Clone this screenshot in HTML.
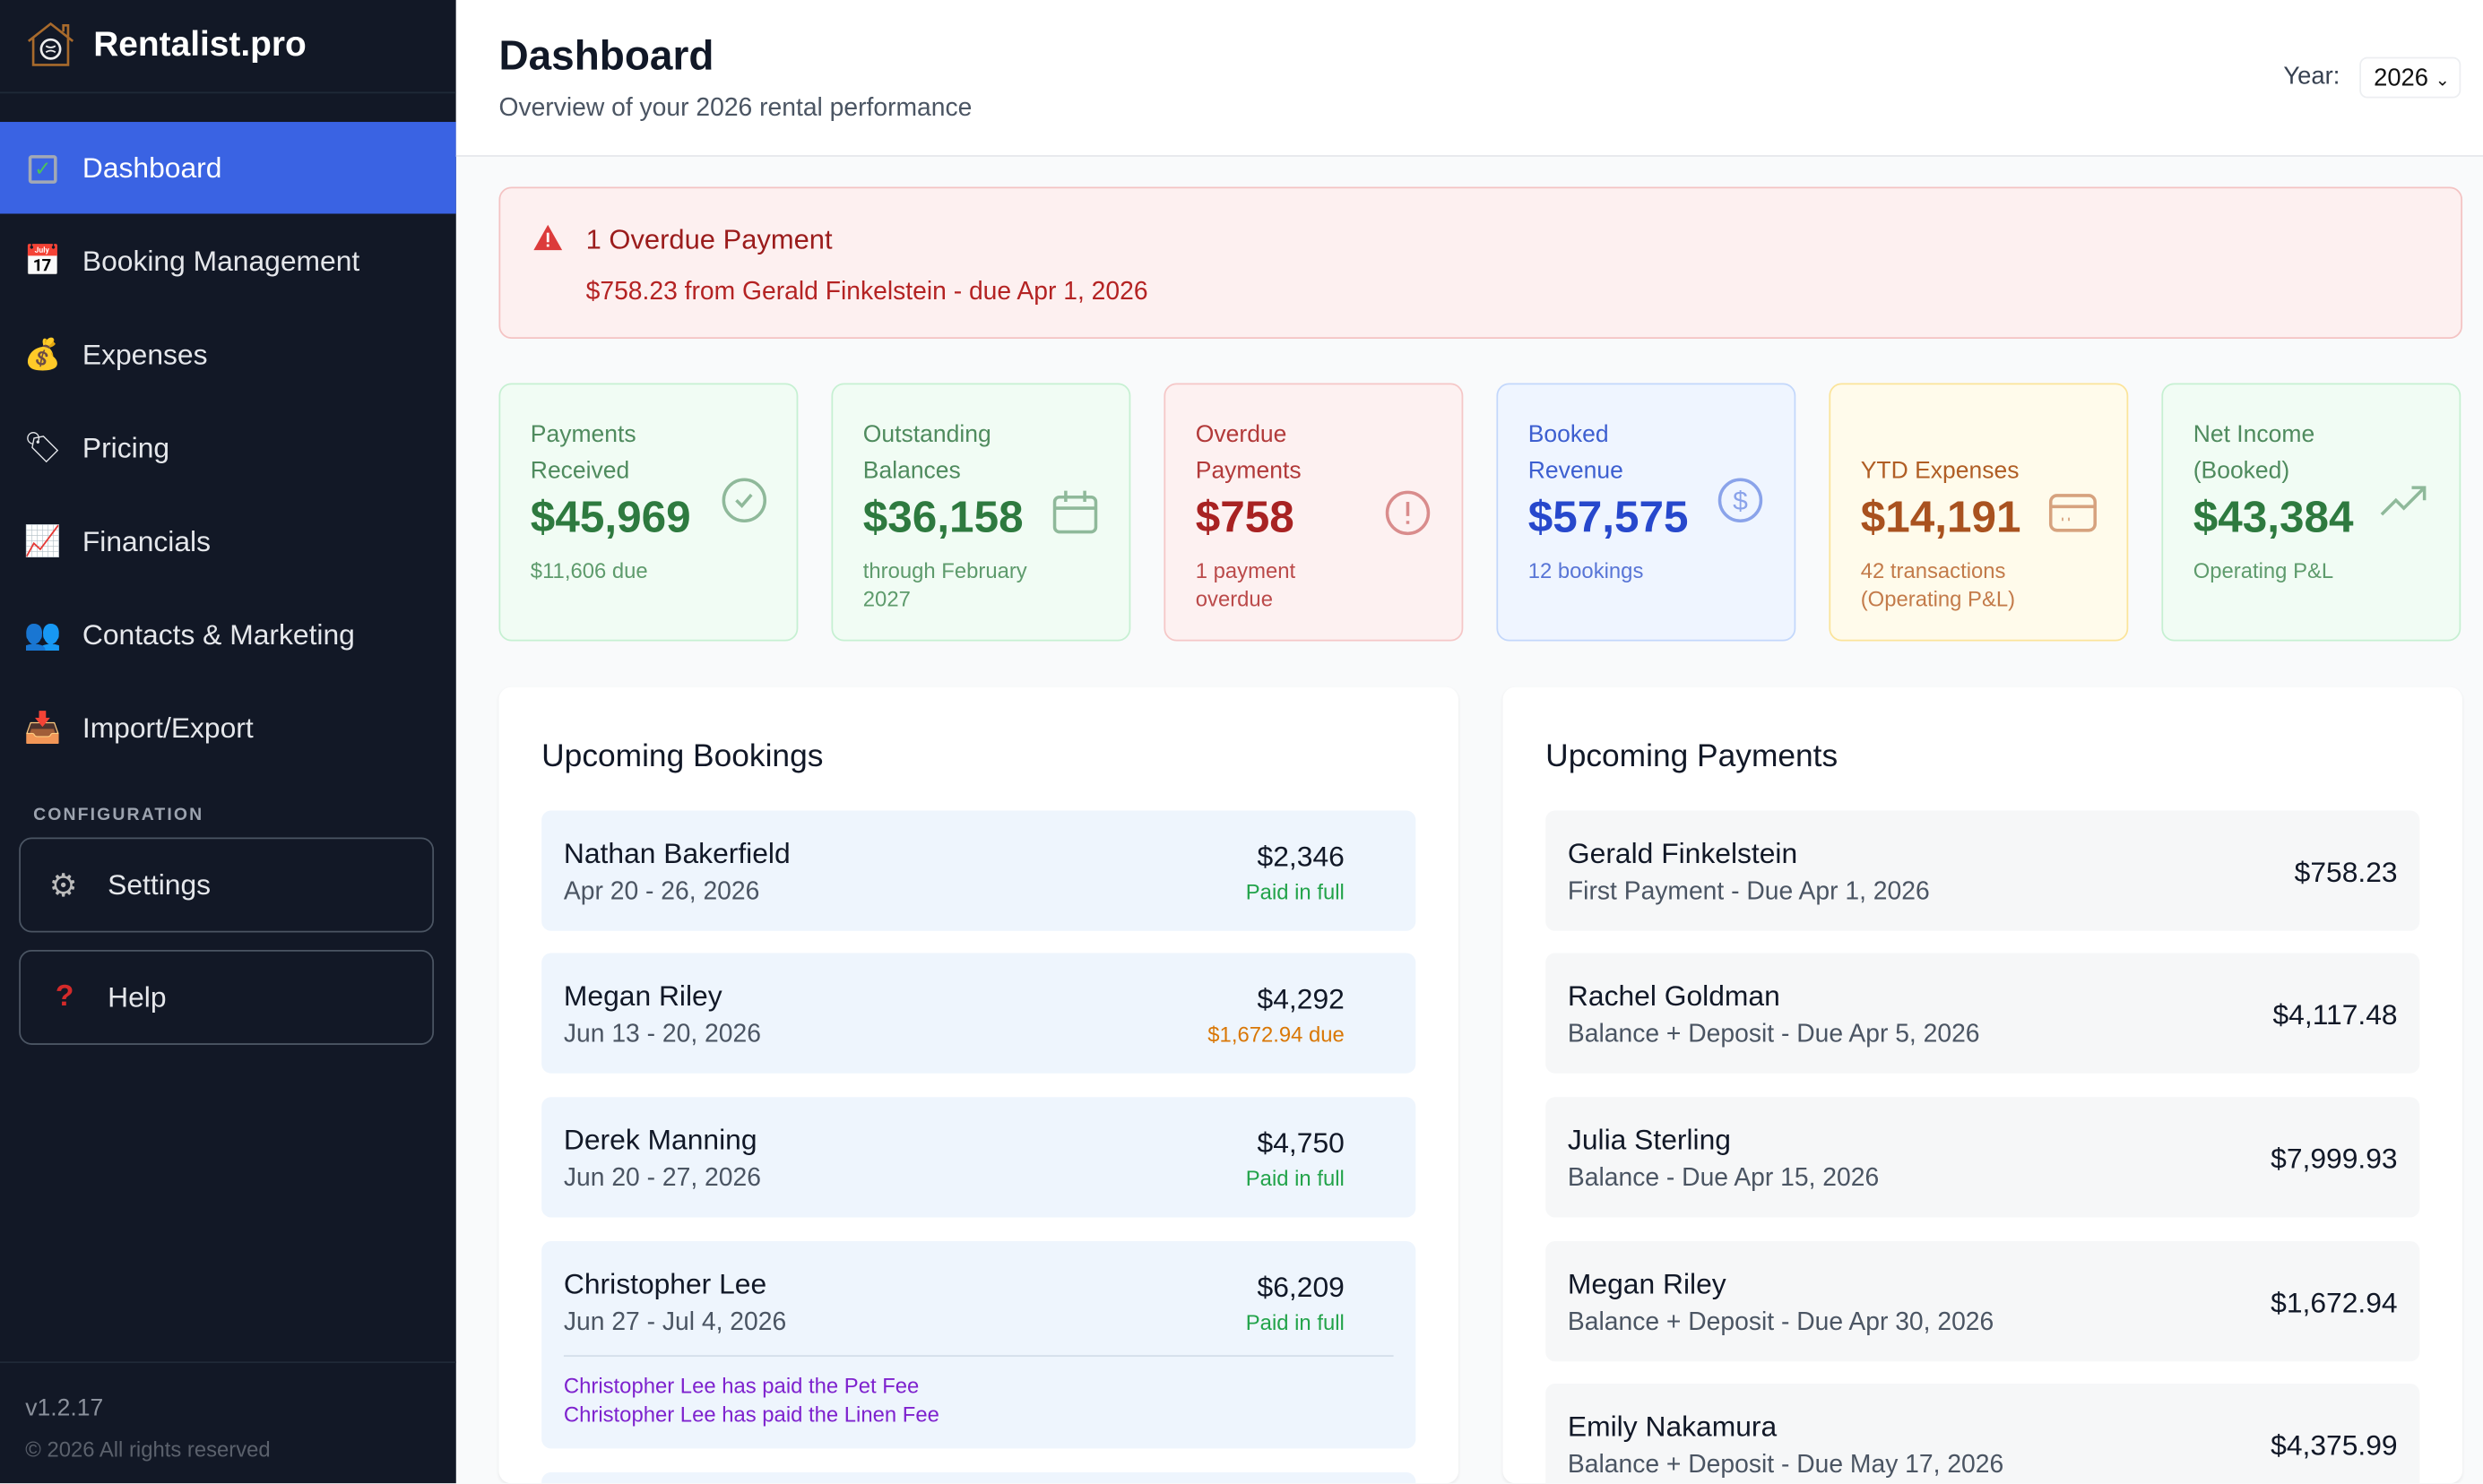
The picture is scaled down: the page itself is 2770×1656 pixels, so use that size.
<!DOCTYPE html>
<html><head><meta charset="utf-8"><style>
html,body{margin:0;padding:0;width:2770px;height:1656px;overflow:hidden;background:#f9fafb}
#root{position:absolute;left:0;top:0;width:1568px;height:937px;transform:scale(1.76658);transform-origin:0 0;font-family:"Liberation Sans",sans-serif;overflow:hidden}
.abs{position:absolute}
.side{left:0;top:0;width:288px;height:937px;background:#121826}
.nav{position:absolute;left:0;width:288px;height:58px;color:#e5e7eb;font-size:18px;display:flex;align-items:center}
.nav .ic{width:24px;margin-left:15px;margin-right:13px;font-size:19px;text-align:center}
.cbox{position:absolute;left:12px;width:260px;height:58px;border:1px solid #4b5563;border-radius:8px;color:#e5e7eb;font-size:18px;display:flex;align-items:center}
.card{position:absolute;top:242px;width:189px;height:163px;border:1px solid;border-radius:8px;box-sizing:border-box}
.card .lbl{position:absolute;left:19px;top:20px;font-size:15px;line-height:23px}
.card .val{position:absolute;left:19px;top:68px;font-size:28px;font-weight:bold}
.card .sub{position:absolute;left:19px;top:109px;font-size:13.5px;line-height:18px}
.card svg{position:absolute}
.panel{position:absolute;top:434px;background:#fff;border-radius:8px;height:503px;overflow:hidden;box-shadow:0 1px 2px rgba(0,0,0,.06)}
.row{position:absolute;left:27px;right:27px;height:76px;border-radius:6px}
.row .n{position:absolute;left:14px;top:17px;font-size:18px;color:#111827}
.row .d{position:absolute;left:14px;top:43px;font-size:16px;color:#4b5563}
.row .a{position:absolute;right:45px;top:19px;font-size:18px;color:#111827}
.row .s{position:absolute;right:45px;top:44px;font-size:13.5px}
.prow .a{right:14px;top:29px;font-size:18px}
</style></head><body>
<div id="root">
<div class="abs side">
  <div class="abs" style="left:16px;top:13px">
    <svg width="32" height="30" viewBox="0 0 32 30"><path d="M2 13 L16 2 L30 13 M24 7 V3 H27 V10 M5 11 V28 H27 V11" fill="none" stroke="#a86a2c" stroke-width="1.5"/><circle cx="16" cy="18" r="6" fill="none" stroke="#eee" stroke-width="1.5"/><path d="M13 16 q3 2 6 0 M13 20 q3 -2 6 0" stroke="#eee" fill="none" stroke-width="1"/></svg>
  </div>
  <div class="abs" style="left:59px;top:15px;font-size:22px;font-weight:bold;color:#fff">Rentalist.pro</div>
  <div class="abs" style="left:0;top:58px;width:288px;height:1px;background:#1f2937"></div>
  <div class="nav" style="top:77px;background:#3a63e3;color:#fff"><span class="ic"><span style="display:inline-block;width:18px;height:18px;border:2px solid #a3a9b5;box-sizing:border-box;border-radius:2px;color:#4cc45a;font-size:13px;line-height:14px">✓</span></span>Dashboard</div>
  <div class="nav" style="top:136px"><span class="ic">📅</span>Booking Management</div>
  <div class="nav" style="top:195px"><span class="ic">💰</span>Expenses</div>
  <div class="nav" style="top:254px"><span class="ic">🏷</span>Pricing</div>
  <div class="nav" style="top:313px"><span class="ic">📈</span>Financials</div>
  <div class="nav" style="top:372px"><span class="ic">👥</span>Contacts &amp; Marketing</div>
  <div class="nav" style="top:431px"><span class="ic">📥</span>Import/Export</div>
  <div class="abs" style="left:21px;top:509px;font-size:11px;letter-spacing:1.2px;color:#9ca3af;font-weight:bold">CONFIGURATION</div>
  <div class="cbox" style="top:529px"><span style="margin-left:18px;width:24px;color:#bbb;font-size:20px">⚙</span><span style="margin-left:13px">Settings</span></div>
  <div class="cbox" style="top:600px"><span style="margin-left:22px;width:20px;color:#d42a2a;font-size:19px;font-weight:bold">?</span><span style="margin-left:13px">Help</span></div>
  <div class="abs" style="left:0;top:860px;width:288px;height:1px;background:#1f2937"></div>
  <div class="abs" style="left:16px;top:881px;font-size:15px;color:#8b919c">v1.2.17</div>
  <div class="abs" style="left:16px;top:908px;font-size:13.5px;color:#5b616c">© 2026 All rights reserved</div>
</div>

<div class="abs" style="left:288px;top:0;width:1280px;height:98px;background:#fff;border-bottom:1px solid #e5e7eb"></div>
<div class="abs" style="left:315px;top:20px;font-size:26px;font-weight:bold;color:#111827">Dashboard</div>
<div class="abs" style="left:315px;top:60px;font-size:16px;color:#4b5563">Overview of your 2026 rental performance</div>
<div class="abs" style="left:1442px;top:40px;font-size:15.5px;color:#374151">Year:</div>
<div class="abs" style="left:1490px;top:36px;width:64px;height:26px;border:1px solid #eceef1;border-radius:5px;box-sizing:border-box;font-size:15.5px;color:#111;padding:4px 0 0 8px">2026 <span style="font-size:11px">⌄</span></div>

<div class="abs" style="left:315px;top:118px;width:1240px;height:96px;background:#fdf0f0;border:1px solid #f4c3c3;border-radius:8px;box-sizing:border-box">
  <svg class="abs" style="left:20px;top:22px" width="20" height="18" viewBox="0 0 20 18"><path d="M10 1 L19 17 H1 Z" fill="#dc3b3b"/><rect x="9.2" y="6" width="1.6" height="6" fill="#fff"/><rect x="9.2" y="13.3" width="1.6" height="1.6" fill="#fff"/></svg>
  <div class="abs" style="left:54px;top:22px;font-size:17.5px;color:#9b1c1c">1 Overdue Payment</div>
  <div class="abs" style="left:54px;top:57px;font-size:16px;color:#b42323">$758.23 from Gerald Finkelstein - due Apr 1, 2026</div>
</div>

<div class="card" style="left:315px;background:#f1fcf4;border-color:#c6f0d2">
  <div class="lbl" style="color:#4f8b5e">Payments<br>Received</div>
  <div class="val" style="color:#2e7a3f">$45,969</div>
  <div class="sub" style="color:#5e9b6c">$11,606 due</div>
  <svg style="left:139px;top:58px" width="30" height="30"><circle cx="15" cy="15" r="13" fill="none" stroke="#8fb99a" stroke-width="2"/><path d="M10 15 l3.5 3.5 l6-7" fill="none" stroke="#8fb99a" stroke-width="2"/></svg>
</div>
<div class="card" style="left:525px;background:#f1fcf4;border-color:#c6f0d2">
  <div class="lbl" style="color:#4f8b5e">Outstanding<br>Balances</div>
  <div class="val" style="color:#2e7a3f">$36,158</div>
  <div class="sub" style="color:#5e9b6c">through February<br>2027</div>
  <svg style="left:138px;top:66px" width="30" height="30"><rect x="2" y="5" width="26" height="22" rx="3" fill="none" stroke="#8fb99a" stroke-width="2"/><path d="M9 1v7M21 1v7M2 12h26" stroke="#8fb99a" stroke-width="2"/></svg>
</div>
<div class="card" style="left:735px;background:#fdf1f1;border-color:#f5c7c7">
  <div class="lbl" style="color:#b23a3a">Overdue<br>Payments</div>
  <div class="val" style="color:#a82222">$758</div>
  <div class="sub" style="color:#bb4a4a">1 payment<br>overdue</div>
  <svg style="left:138px;top:66px" width="30" height="30"><circle cx="15" cy="15" r="13" fill="none" stroke="#d98c8c" stroke-width="2"/><path d="M15 8v9M15 20v2" stroke="#d98c8c" stroke-width="2"/></svg>
</div>
<div class="card" style="left:945px;background:#eff5ff;border-color:#c3d7fb">
  <div class="lbl" style="color:#3d5fd0">Booked<br>Revenue</div>
  <div class="val" style="color:#2748cc">$57,575</div>
  <div class="sub" style="color:#5875d6">12 bookings</div>
  <svg style="left:138px;top:58px" width="30" height="30"><circle cx="15" cy="15" r="13" fill="none" stroke="#8aa3ea" stroke-width="2"/><text x="15" y="21" text-anchor="middle" font-size="17" fill="#8aa3ea" font-family="Liberation Sans">$</text></svg>
</div>
<div class="card" style="left:1155px;background:#fffbeb;border-color:#fbe49a">
  <div class="lbl" style="color:#b05e25;top:43px">YTD Expenses</div>
  <div class="val" style="color:#a9521f">$14,191</div>
  <div class="sub" style="color:#c37b4a">42 transactions<br>(Operating P&amp;L)</div>
  <svg style="left:137px;top:68px" width="32" height="28"><rect x="2" y="2" width="28" height="22" rx="4" fill="none" stroke="#d6a27e" stroke-width="2"/><path d="M2 9h28M9 17h1M13 17h1" stroke="#d6a27e" stroke-width="2"/></svg>
</div>
<div class="card" style="left:1365px;background:#f1fcf4;border-color:#c6f0d2">
  <div class="lbl" style="color:#4f8b5e">Net Income<br>(Booked)</div>
  <div class="val" style="color:#2e7a3f">$43,384</div>
  <div class="sub" style="color:#5e9b6c">Operating P&amp;L</div>
  <svg style="left:136px;top:62px" width="32" height="24"><path d="M2 20 L11 11 L16 16 L29 3 M21 3 H29 V11" fill="none" stroke="#8fb99a" stroke-width="2"/></svg>
</div>

<div class="panel" style="left:315px;width:606px">
  <div class="abs" style="left:27px;top:33px;font-size:20px;color:#111827">Upcoming Bookings</div>
  <div class="row" style="top:78px;background:#eef5fd"><div class="n">Nathan Bakerfield</div><div class="d">Apr 20 - 26, 2026</div><div class="a">$2,346</div><div class="s" style="color:#22a34a">Paid in full</div></div>
  <div class="row" style="top:168px;background:#eef5fd"><div class="n">Megan Riley</div><div class="d">Jun 13 - 20, 2026</div><div class="a">$4,292</div><div class="s" style="color:#d97706">$1,672.94 due</div></div>
  <div class="row" style="top:259px;background:#eef5fd"><div class="n">Derek Manning</div><div class="d">Jun 20 - 27, 2026</div><div class="a">$4,750</div><div class="s" style="color:#22a34a">Paid in full</div></div>
  <div class="row" style="top:350px;height:131px;background:#eef5fd"><div class="n">Christopher Lee</div><div class="d">Jun 27 - Jul 4, 2026</div><div class="a">$6,209</div><div class="s" style="color:#22a34a">Paid in full</div>
    <div class="abs" style="left:14px;right:14px;top:72px;height:1px;background:#d3deea"></div>
    <div class="abs" style="left:14px;top:83px;font-size:13.5px;line-height:18px;color:#7e22ce">Christopher Lee has paid the Pet Fee<br>Christopher Lee has paid the Linen Fee</div></div>
  <div class="row" style="top:496px;background:#eef5fd"></div>
</div>

<div class="panel" style="left:949px;width:606px">
  <div class="abs" style="left:27px;top:33px;font-size:20px;color:#111827">Upcoming Payments</div>
  <div class="row prow" style="top:78px;background:#f6f7f8"><div class="n">Gerald Finkelstein</div><div class="d">First Payment - Due Apr 1, 2026</div><div class="a">$758.23</div></div>
  <div class="row prow" style="top:168px;background:#f6f7f8"><div class="n">Rachel Goldman</div><div class="d">Balance + Deposit - Due Apr 5, 2026</div><div class="a">$4,117.48</div></div>
  <div class="row prow" style="top:259px;background:#f6f7f8"><div class="n">Julia Sterling</div><div class="d">Balance - Due Apr 15, 2026</div><div class="a">$7,999.93</div></div>
  <div class="row prow" style="top:350px;background:#f6f7f8"><div class="n">Megan Riley</div><div class="d">Balance + Deposit - Due Apr 30, 2026</div><div class="a">$1,672.94</div></div>
  <div class="row prow" style="top:440px;background:#f6f7f8"><div class="n">Emily Nakamura</div><div class="d">Balance + Deposit - Due May 17, 2026</div><div class="a">$4,375.99</div></div>
</div>
</div>
</body></html>
